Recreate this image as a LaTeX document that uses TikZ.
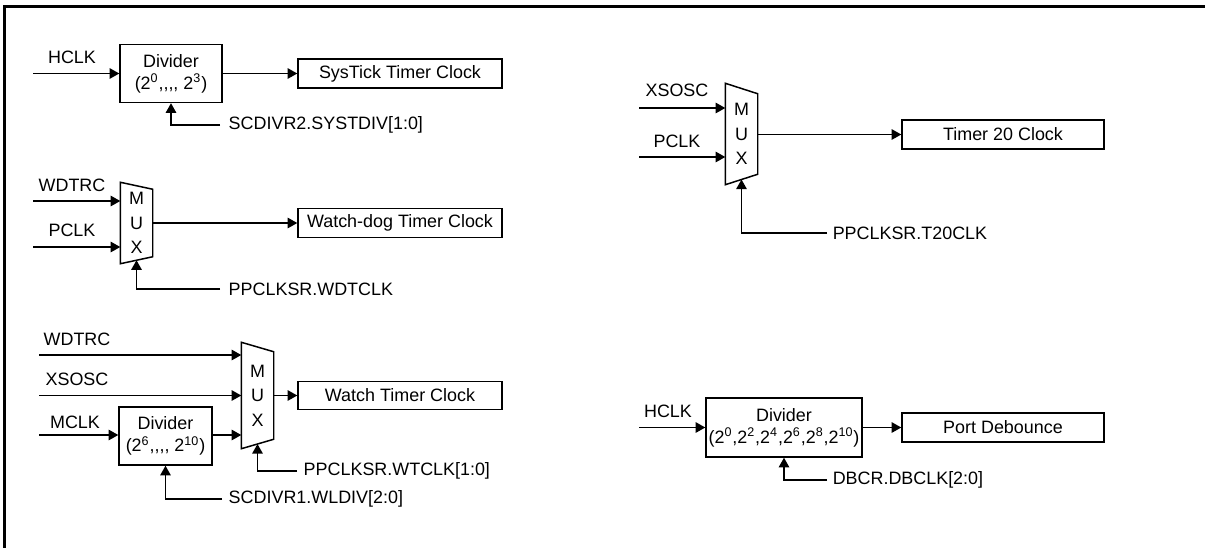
\documentclass[tikz,border=0pt]{standalone}
\usepackage{fontspec}
\setmainfont{Liberation Sans}
\usepackage{tikz}
\usetikzlibrary{arrows.meta, positioning, calc}

\newcommand{\px}{0.02cm}
\newcommand{\cms}{,\kern0pt,\kern0pt,\kern0pt,}

\begin{document}
\begin{tikzpicture}[x=0.02cm, y=-0.02cm, line width=0.85pt,
        font=\fontsize{10.2}{12.2}\selectfont,
        sig/.style={-{Triangle[length=5.5pt, width=6pt]}},
        blk/.style={draw, inner sep=0pt, align=center, font=\fontsize{10.2}{12.6}\selectfont},
        txt/.style={inner sep=0pt},
        muxbox/.style={inner sep=0pt, minimum width=31*\px, align=center, font=\fontsize{10.2}{14}\selectfont}]
        \useasboundingbox (0,0) rectangle (1205,548);
        \draw[line width=1.6pt] (4.5,548) -- (4.5,6.5) -- (1205,6.5);

        % SysTick timer
        \node[txt] (hclk1) at (72,57) {HCLK};
        \coordinate (hclk1in) at (33,73.5);
        \node[blk, minimum width=102*\px, minimum height=58*\px] (div1) at (171,73.5) {Divider\\(2\textsuperscript{0}\cms\ 2\textsuperscript{3})};
        \node[blk, minimum width=204*\px, minimum height=29*\px] (systick) at (400,73.5) {SysTick Timer Clock};
        \coordinate (sel1) at (220,125);
        \node[txt, anchor=west] (sel1txt) at (228,125) {SCDIVR2.SYSTDIV[1:0]};
        \draw[sig] (hclk1in) -- (hclk1in -| div1.west);
        \draw[sig] (div1.east) -- (systick.west);
        \draw[sig] (sel1) -| (div1.south);

        % watch-dog timer
        \node[txt] (wdtrc1) at (72,185) {WDTRC};
        \node[txt] (pclk1) at (72,230) {PCLK};
        \coordinate (wdtrc1in) at (33,201);
        \coordinate (pclk1in) at (33,247);
        \node[muxbox, minimum height=80*\px] (mux1) at (136.5,223) {M\\U\\X};
        \draw (mux1.north west) -- ([yshift=-7*\px]mux1.north east) -- ([yshift=7*\px]mux1.south east) -- (mux1.south west) -- cycle;
        \node[blk, minimum width=204*\px, minimum height=29*\px] (wdt) at (400,223) {Watch-dog Timer Clock};
        \coordinate (sel2) at (220,289);
        \node[txt, anchor=west] (sel2txt) at (228,289) {PPCLKSR.WDTCLK};
        \draw[sig] (wdtrc1in) -- (wdtrc1in -| mux1.west);
        \draw[sig] (pclk1in) -- (pclk1in -| mux1.west);
        \draw[sig] (mux1.east) -- (wdt.west);
        \draw[sig] (sel2) -| ([yshift=3.5*\px]mux1.south);

        % watch timer
        \node[txt] (wdtrc2) at (77,339) {WDTRC};
        \node[txt] (xsosc1) at (77,379) {XSOSC};
        \node[txt] (mclk) at (75,422) {MCLK};
        \coordinate (wdtrc2in) at (39,355);
        \coordinate (xsosc1in) at (39,395.5);
        \coordinate (mclkin) at (39,435);
        \node[blk, minimum width=93*\px, minimum height=58*\px] (div2) at (165.5,436) {Divider\\(2\textsuperscript{6}\cms\ 2\textsuperscript{10})};
        \node[muxbox, minimum height=105*\px] (mux3) at (257.5,395.5) {M\\U\\X};
        \draw (mux3.north west) -- ([yshift=-9.5*\px]mux3.north east) -- ([yshift=9.5*\px]mux3.south east) -- (mux3.south west) -- cycle;
        \node[blk, minimum width=204*\px, minimum height=28*\px] (wt) at (400,395.5) {Watch Timer Clock};
        \coordinate (sel3) at (297,471);
        \node[txt, anchor=west] (sel3txt) at (303,471) {PPCLKSR.WTCLK[1:0]};
        \coordinate (sel4) at (222,499);
        \node[txt, anchor=west] (sel4txt) at (228,499) {SCDIVR1.WLDIV[2:0]};
        \draw[sig] (wdtrc2in) -- (wdtrc2in -| mux3.west);
        \draw[sig] (xsosc1in) -- (xsosc1in -| mux3.west);
        \draw[sig] (mclkin) -- (mclkin -| div2.west);
        \draw[sig] (div2.east |- mclkin) -- (mclkin -| mux3.west);
        \draw[sig] (mux3.east) -- (wt.west);
        \draw[sig] (sel3) -| ([yshift=4.75*\px]mux3.south);
        \draw[sig] (sel4) -| (div2.south);

        % timer 20
        \node[txt] (xsosc2) at (677,90) {XSOSC};
        \node[txt] (pclk2) at (677,141) {PCLK};
        \coordinate (xsosc2in) at (639,108);
        \coordinate (pclk2in) at (639,157);
        \node[muxbox, minimum height=100*\px] (mux2) at (741.5,134) {M\\U\\X};
        \draw (mux2.north west) -- ([yshift=-10.5*\px]mux2.north east) -- ([yshift=10.5*\px]mux2.south east) -- (mux2.south west) -- cycle;
        \node[blk, minimum width=202*\px, minimum height=29*\px] (t20) at (1003,134.5) {Timer 20 Clock};
        \coordinate (sel5) at (827,233);
        \node[txt, anchor=west] (sel5txt) at (832,233) {PPCLKSR.T20CLK};
        \draw[sig] (xsosc2in) -- (xsosc2in -| mux2.west);
        \draw[sig] (pclk2in) -- (pclk2in -| mux2.west);
        \draw[sig] (mux2.east |- t20) -- (t20.west);
        \draw[sig] (sel5) -| ([yshift=5.25*\px]mux2.south);

        % port debounce
        \node[txt] (hclk2) at (668,411) {HCLK};
        \coordinate (hclk2in) at (639,427.5);
        \node[blk, minimum width=156*\px, minimum height=59*\px] (div3) at (784,427.5) {Divider\\(2\textsuperscript{0},2\textsuperscript{2},2\textsuperscript{4},2\textsuperscript{6},2\textsuperscript{8},2\textsuperscript{10})};
        \node[blk, minimum width=202*\px, minimum height=29*\px] (deb) at (1003,427.5) {Port Debounce};
        \coordinate (sel6) at (827,480);
        \node[txt, anchor=west] (sel6txt) at (832,480) {DBCR.DBCLK[2:0]};
        \draw[sig] (hclk2in) -- (hclk2in -| div3.west);
        \draw[sig] (div3.east) -- (deb.west);
        \draw[sig] (sel6) -| (div3.south);
\end{tikzpicture}
\end{document}
